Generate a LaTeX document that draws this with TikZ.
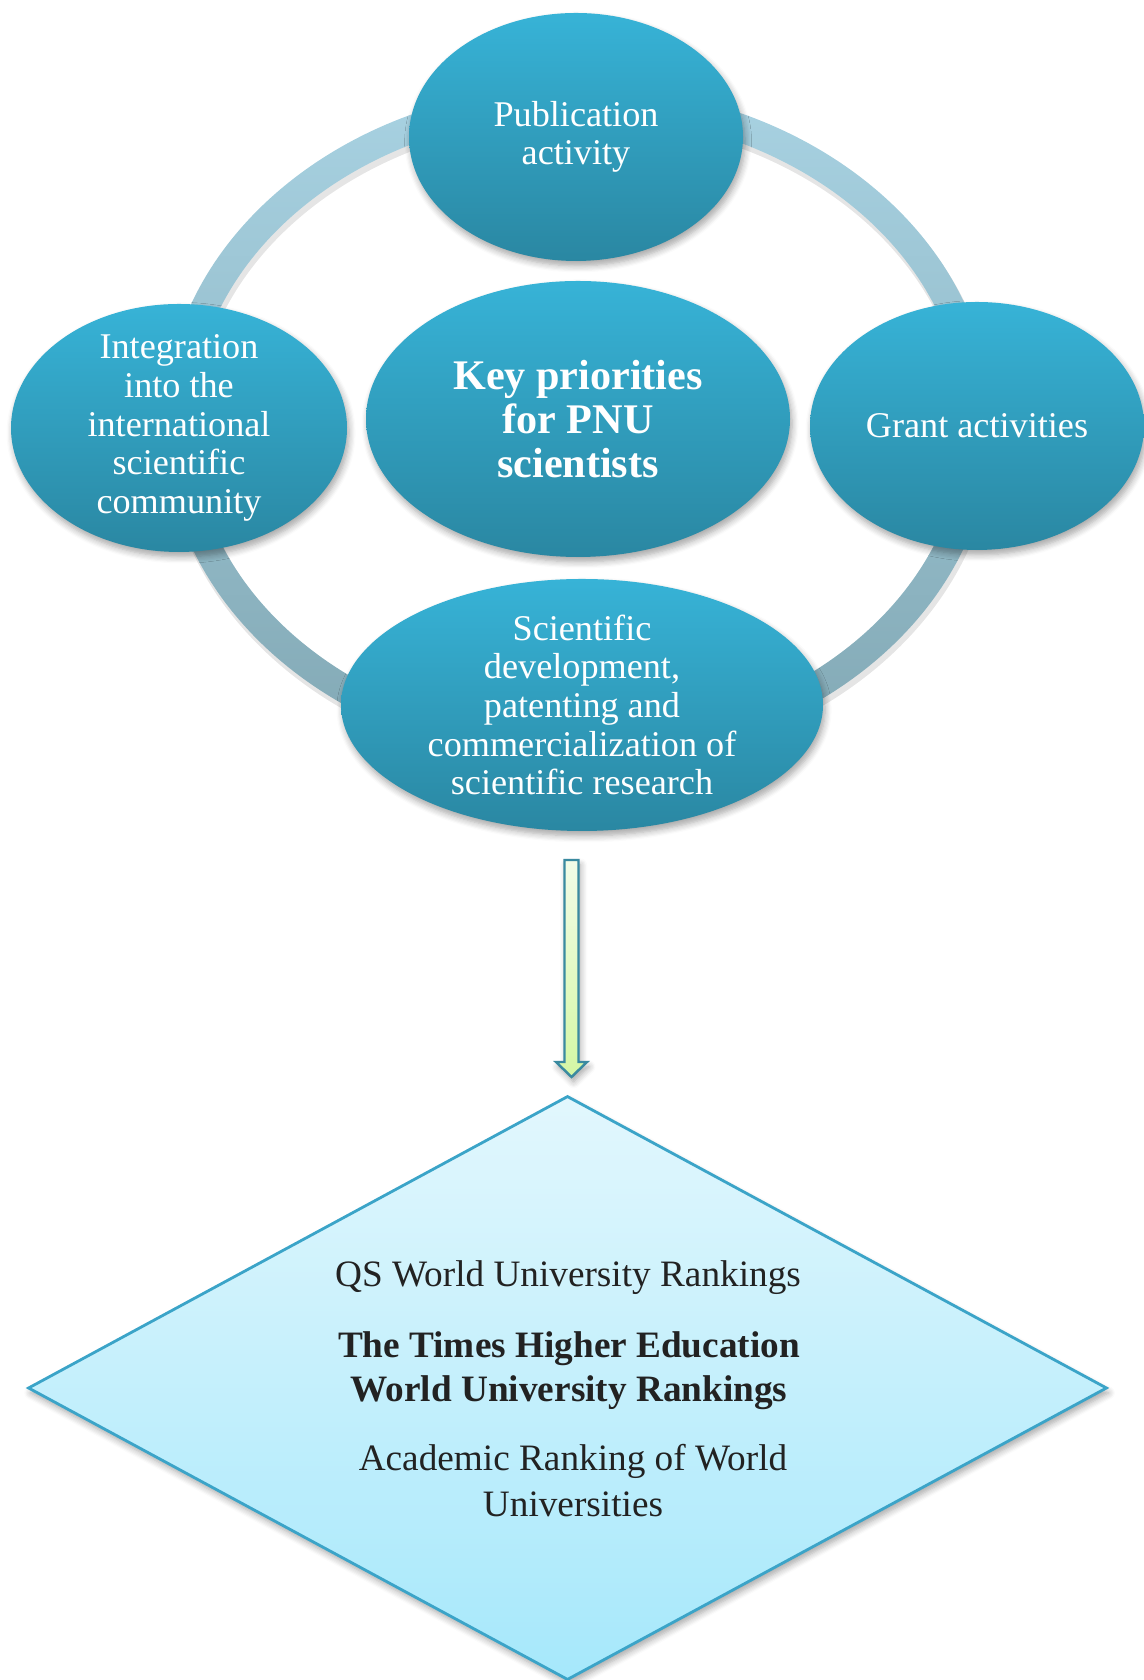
\documentclass[tikz,border=0pt]{standalone}
\usepackage{fontspec}
\setmainfont{Liberation Serif}
\usetikzlibrary{shapes.geometric,shadows.blur}

\definecolor{balltop}{HTML}{37B3D7}
\definecolor{ballbot}{HTML}{2A87A2}
\definecolor{ringtop}{HTML}{A8D2E2}
\definecolor{ringbot}{HTML}{82A8B4}
\definecolor{arrtop}{HTML}{F2FCE8}
\definecolor{arrbot}{HTML}{D4F7A4}
\definecolor{arrline}{HTML}{3A8AA0}
\definecolor{rhotop}{HTML}{E2F7FD}
\definecolor{rhobot}{HTML}{A6E8FB}
\definecolor{rholine}{HTML}{3BA4C8}
\definecolor{rhotext}{HTML}{222222}

\begin{document}
\begin{tikzpicture}[
    softshadow/.style={blur shadow={shadow xshift=0.6pt, shadow yshift=-1.4pt, shadow blur steps=6, shadow opacity=35}},
    ball/.style={ellipse, inner sep=-5pt, top color=balltop, bottom color=ballbot, text=white, align=center, font=\fontsize{10.3}{11}\selectfont, softshadow},
    ranktext/.style={text=rhotext, align=center, font=\fontsize{10.6}{13.2}\selectfont}
]
    \useasboundingbox (0,0) rectangle (11.44,16.8);

    % Ring behind the ellipses
    \fill[black, opacity=0.10, even odd rule] (5.80,12.50) ellipse (4.15 and 3.40) (5.80,12.50) ellipse (3.85 and 3.10); % ring shadow
    \shade[even odd rule, top color=ringtop, bottom color=ringbot] (5.78,12.55) ellipse (4.14 and 3.39) (5.78,12.55) ellipse (3.86 and 3.11); % ring

    % Ellipses
    \node[ball, minimum width=3.34cm, minimum height=2.48cm] (pub) at (5.76,15.43) {Publication\\activity};
    \node[ball, minimum width=4.24cm, minimum height=2.76cm, font=\bfseries\fontsize{12}{12.6}\selectfont] (key) at (5.78,12.61) {Key priorities\\for PNU\\scientists};
    \node[ball, minimum width=3.36cm, minimum height=2.48cm] (integ) at (1.79,12.52) {Integration\\into the\\international\\scientific\\community};
    \node[ball, minimum width=3.34cm, minimum height=2.48cm] (grant) at (9.77,12.54) {Grant activities};
    \node[ball, minimum width=4.82cm, minimum height=2.52cm] (sci) at (5.82,9.75) {Scientific\\development,\\patenting and\\commercialization of\\scientific research};

    % Block arrow down
    \draw[draw=arrline, line width=0.7pt, top color=arrtop, bottom color=arrbot, softshadow] (5.645,8.20) -- (5.785,8.20) -- (5.785,6.18) -- (5.87,6.18) -- (5.715,6.03) -- (5.56,6.18) -- (5.645,6.18) -- cycle;

    % Rankings diamond
    \node[diamond, draw=rholine, line width=0.8pt, top color=rhotop, bottom color=rhobot, minimum width=10.79cm, minimum height=5.84cm, inner sep=0pt, softshadow] (rank) at (5.675,2.92) {};
    \node[ranktext, anchor=base] (qs) at (5.68,3.93) {QS World University Rankings};
    \node[ranktext, anchor=base, font=\bfseries\fontsize{10.6}{12.8}\selectfont] (the) at (5.69,2.78) {The Times Higher Education\\World University Rankings};
    \node[ranktext, anchor=base] (arwu) at (5.73,1.63) {Academic Ranking of World\\Universities};
\end{tikzpicture}
\end{document}
